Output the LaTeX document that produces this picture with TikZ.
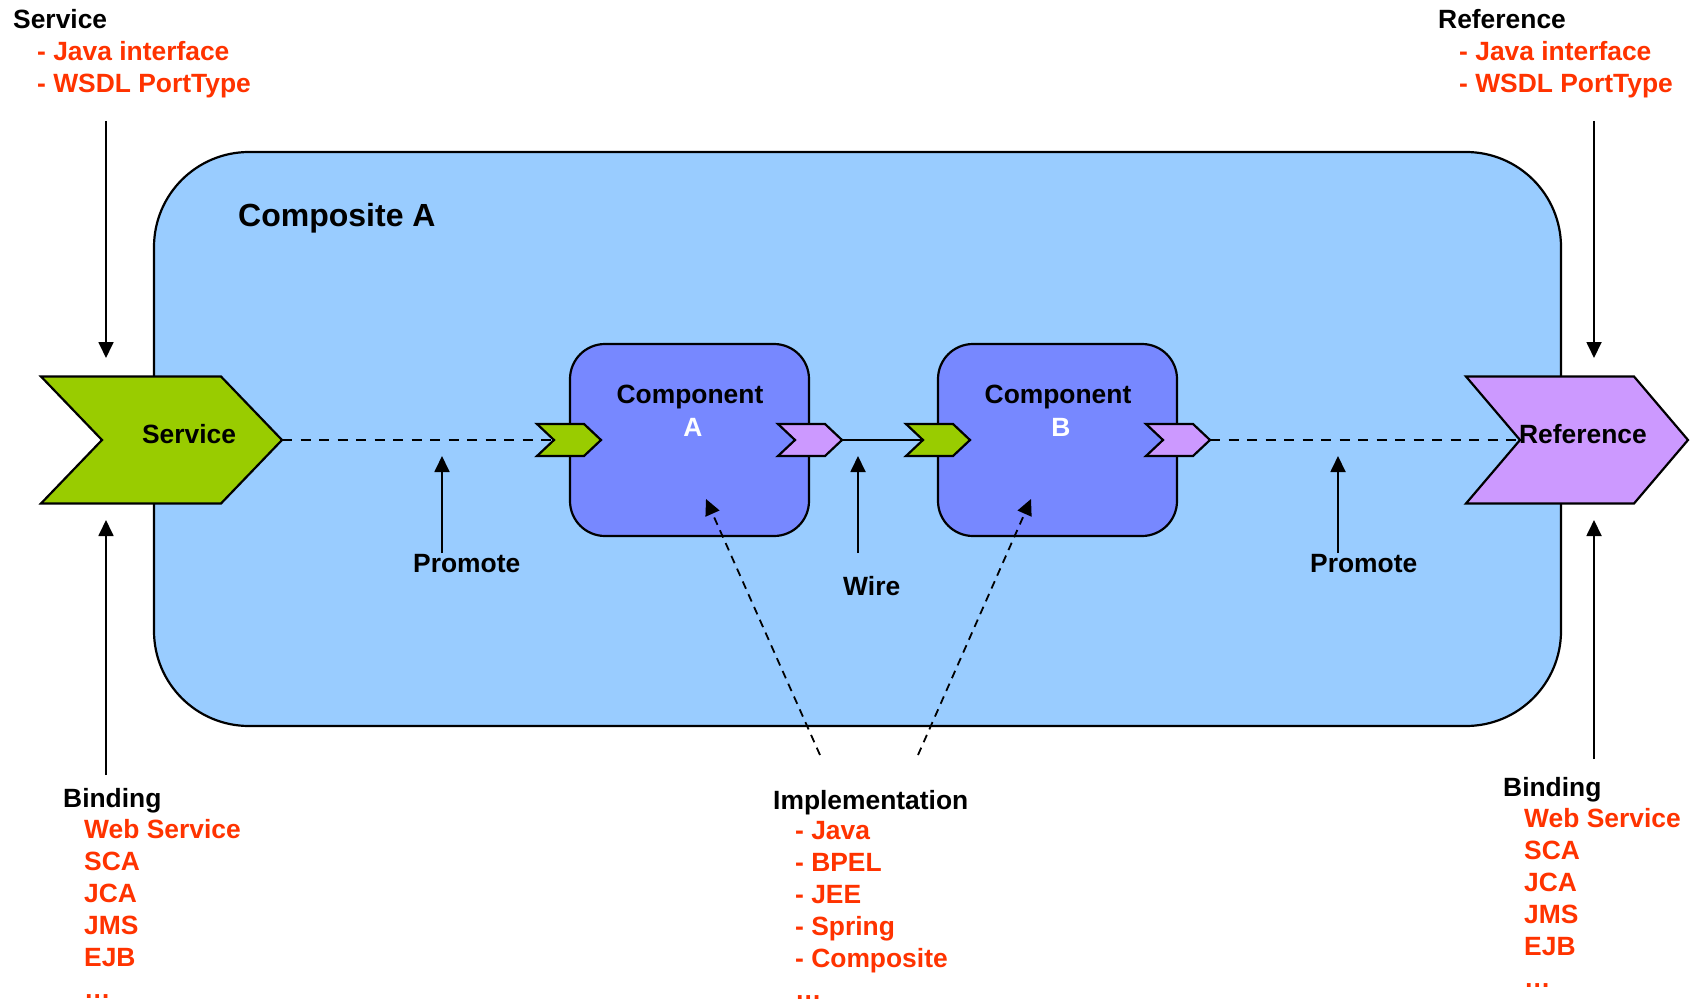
\documentclass[tikz,border=0pt]{standalone}
\usepackage{fontspec}
\setmainfont{Liberation Sans}
\usetikzlibrary{arrows.meta}

\definecolor{compositeblue}{RGB}{153,204,255}
\definecolor{componentblue}{RGB}{119,136,255}
\definecolor{servicegreen}{RGB}{153,204,0}
\definecolor{refpurple}{RGB}{204,153,255}
\definecolor{listred}{RGB}{255,51,0}

\tikzset{
  % arrow-shaped port: width, half height, point depth, fill colour
  pics/chev/.style n args={4}{code={
    \draw[outline, fill=#4] (0,-#2) -- (#1-#3,-#2) -- (#1,0) -- (#1-#3,#2)
      -- (0,#2) -- (#3,0) -- cycle;
    \coordinate (-notch) at (#3,0);
    \coordinate (-tip) at (#1,0);
  }}
}

\begin{document}
\begin{tikzpicture}[x=1pt,y=-1pt,
  lbl/.style={inner sep=0pt, anchor=base west, align=left,
    font=\bfseries\fontsize{26.4}{32}\selectfont},
  % multi-line lists are placed by the baseline of their last line
  redlist/.style={lbl, text=listred},
  outline/.style={draw=black, line width=2.2pt, line join=miter},
  callout/.style={line width=1.8pt, -{Triangle[length=16pt,width=15pt]}},
  implarrow/.style={line width=1.8pt, dash pattern=on 8pt off 6pt,
    -{Triangle[length=16pt,width=15pt]}},
  promoline/.style={line width=2.6pt, dash pattern=on 10pt off 8.5pt},
  compbox/.style={outline, fill=componentblue, rounded corners=35pt,
    minimum width=239pt, minimum height=192pt, inner sep=0pt},
]
\useasboundingbox (0,0) rectangle (1700,1003);

% composite
\node[outline, fill=compositeblue, rounded corners=95pt, inner sep=0pt,
  minimum width=1407pt, minimum height=574pt] (composite) at (857.5,439) {};
\node[lbl, font=\bfseries\fontsize{32}{38}\selectfont] (compname) at (238,227) {Composite A};

% components
\node[compbox] (compA) at (689.5,440) {};
\node[compbox] (compB) at (1057.5,440) {};
\node[lbl, anchor=base] (compAname) at (690,403) {Component};
\node[lbl, anchor=base, text=white] (compAletter) at (693,436) {A};
\node[lbl, anchor=base] (compBname) at (1058,403) {Component};
\node[lbl, anchor=base, text=white] (compBletter) at (1061,436) {B};

% ports
\pic (svc) at (41,440) {chev={241}{63.5}{61}{servicegreen}};
\pic (ref) at (1466,440) {chev={222}{63.5}{54}{refpurple}};
\pic (ain) at (537,440) {chev={64}{16}{17}{servicegreen}};
\pic (aout) at (778,440) {chev={64}{16}{17}{refpurple}};
\pic (bin) at (906,440) {chev={64}{16}{17}{servicegreen}};
\pic (bout) at (1146,440) {chev={64}{16}{17}{refpurple}};
\node[lbl, anchor=base] (svcname) at (189,443) {Service};
\node[lbl, anchor=base] (refname) at (1583,443) {Reference};

% promotions and wire
\draw[promoline] (svc-tip) -- (ain-notch);
\draw[promoline] (bout-tip) -- (ref-notch);
\draw[line width=2.2pt] (aout-tip) -- (bin-notch);

% interface labels
\node[lbl] (svchead) at (13,29) {Service};
\node[redlist] (svclist) at (37,93) {- Java interface\\- WSDL PortType};
\node[lbl] (refhead) at (1438,29) {Reference};
\node[redlist] (reflist) at (1459,93) {- Java interface\\- WSDL PortType};

% binding labels
\node[lbl] (lbindhead) at (63,807) {Binding};
\node[redlist] (lbindlist) at (84,998) {Web Service\\SCA\\JCA\\JMS\\EJB\\…};
\node[lbl] (rbindhead) at (1503,796) {Binding};
\node[redlist] (rbindlist) at (1524,987) {Web Service\\SCA\\JCA\\JMS\\EJB\\…};

% implementation labels
\node[lbl] (implhead) at (773,809) {Implementation};
\node[redlist] (impllist) at (795,999) {- Java\\- BPEL\\- JEE\\- Spring\\- Composite\\…};

% promote / wire labels
\node[lbl] (promoteL) at (413,572) {Promote};
\node[lbl] (wirelbl) at (843,595) {Wire};
\node[lbl] (promoteR) at (1310,572) {Promote};

% arrow end points
\coordinate (svcifA) at (106,121);
\coordinate (svcifB) at (106,358);
\coordinate (lbindA) at (106,775);
\coordinate (lbindB) at (106,520);
\coordinate (refifA) at (1594,121);
\coordinate (refifB) at (1594,358);
\coordinate (rbindA) at (1594,759);
\coordinate (rbindB) at (1594,520);
\coordinate (promLA) at (442,553);
\coordinate (promLB) at (442,456);
\coordinate (wireA) at (858,553);
\coordinate (wireB) at (858,456);
\coordinate (promRA) at (1338,553);
\coordinate (promRB) at (1338,456);
\coordinate (implA) at (820,755);
\coordinate (implAt) at (706,499);
\coordinate (implB) at (918,755);
\coordinate (implBt) at (1031,499);

\draw[callout] (svcifA) -- (svcifB);
\draw[callout] (lbindA) -- (lbindB);
\draw[callout] (refifA) -- (refifB);
\draw[callout] (rbindA) -- (rbindB);
\draw[callout] (promLA) -- (promLB);
\draw[callout] (wireA) -- (wireB);
\draw[callout] (promRA) -- (promRB);
\draw[implarrow] (implA) -- (implAt);
\draw[implarrow] (implB) -- (implBt);
\end{tikzpicture}
\end{document}
